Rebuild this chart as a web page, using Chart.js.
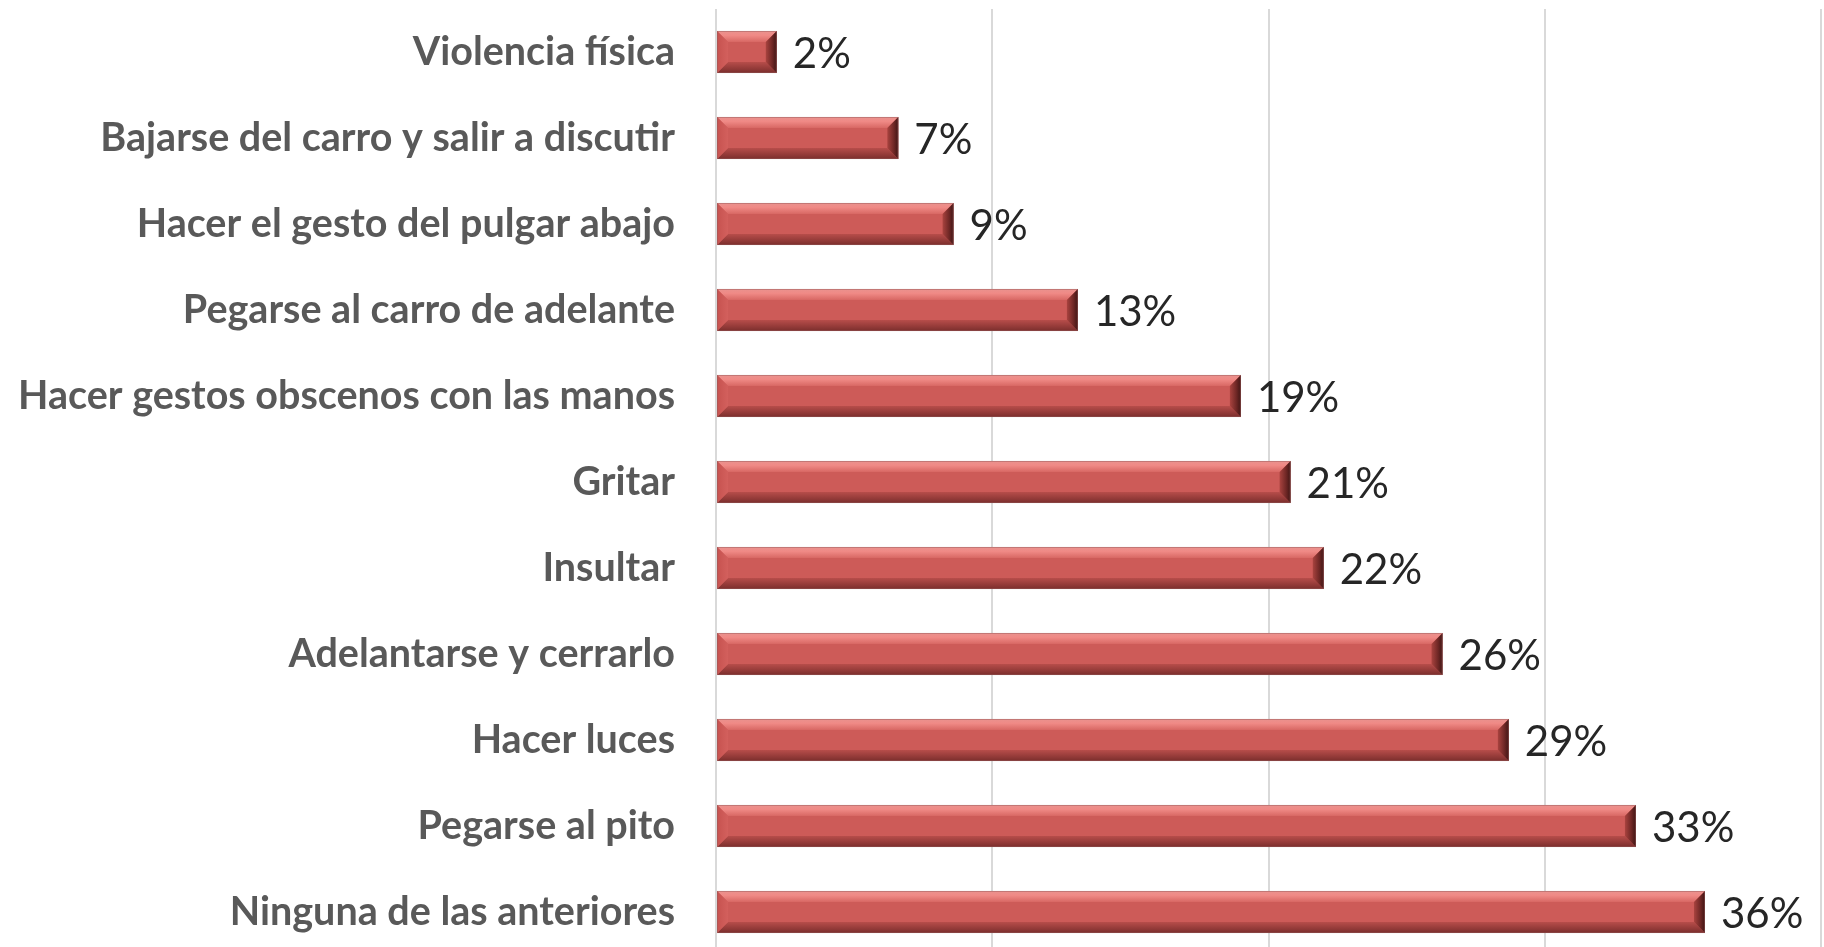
<!DOCTYPE html>
<html>
<head>
<meta charset="utf-8">
<script src="https://cdn.jsdelivr.net/npm/chart.js@4"></script>
<style>
  html, body { margin: 0; padding: 0; background: #ffffff; overflow: hidden; }
  canvas { display: block; }
</style>
</head>
<body>
<canvas id="c" width="1824" height="956"></canvas>
<script>
const categories = [
  "Violencia física",
  "Bajarse del carro y salir a discutir",
  "Hacer el gesto del pulgar abajo",
  "Pegarse al carro de adelante",
  "Hacer gestos obscenos con las manos",
  "Gritar",
  "Insultar",
  "Adelantarse y cerrarlo",
  "Hacer luces",
  "Pegarse al pito",
  "Ninguna de las anteriores"
];
const values = [2.2, 6.6, 8.6, 13.1, 19.0, 20.8, 22.0, 26.3, 28.7, 33.3, 35.8];
const valueLabels = ["2%", "7%", "9%", "13%", "19%", "21%", "22%", "26%", "29%", "33%", "36%"];
const xTicks = [0, 10, 20, 30, 40];

const bevelPlugin = {
  id: 'bevel',
  afterDatasetsDraw(chart) {
    const ctx = chart.ctx;
    const meta = chart.getDatasetMeta(0);
    meta.data.forEach((bar, i) => {
      const p = bar.getProps(['x', 'y', 'base', 'height'], true);
      const L = p.base, R = p.x, T = p.y - p.height / 2, B = p.y + p.height / 2;
      const b = Math.min(11, (R - L) / 2);
      ctx.save();
      // top bevel
      let g = ctx.createLinearGradient(0, T, 0, T + b);
      g.addColorStop(0, '#E9928E'); g.addColorStop(0.4, '#F08A86'); g.addColorStop(1, '#D86864');
      ctx.fillStyle = g;
      ctx.beginPath(); ctx.moveTo(L, T); ctx.lineTo(R, T); ctx.lineTo(R - b, T + b); ctx.lineTo(L + b, T + b); ctx.closePath(); ctx.fill();
      // bottom bevel
      g = ctx.createLinearGradient(0, B - b, 0, B);
      g.addColorStop(0, '#B74D4A'); g.addColorStop(0.6, '#933A38'); g.addColorStop(1, '#7A2E2C');
      ctx.fillStyle = g;
      ctx.beginPath(); ctx.moveTo(L, B); ctx.lineTo(R, B); ctx.lineTo(R - b, B - b); ctx.lineTo(L + b, B - b); ctx.closePath(); ctx.fill();
      // left bevel
      g = ctx.createLinearGradient(L, 0, L + b, 0);
      g.addColorStop(0, '#C6524F'); g.addColorStop(1, '#D3605D');
      ctx.fillStyle = g;
      ctx.beginPath(); ctx.moveTo(L, T); ctx.lineTo(L + b, T + b); ctx.lineTo(L + b, B - b); ctx.lineTo(L, B); ctx.closePath(); ctx.fill();
      // right bevel
      g = ctx.createLinearGradient(R - b, 0, R, 0);
      g.addColorStop(0, '#A9433F'); g.addColorStop(0.6, '#6E2725'); g.addColorStop(1, '#3E1413');
      ctx.fillStyle = g;
      ctx.beginPath(); ctx.moveTo(R, T); ctx.lineTo(R - b, T + b); ctx.lineTo(R - b, B - b); ctx.lineTo(R, B); ctx.closePath(); ctx.fill();
      // faint outline
      ctx.strokeStyle = 'rgba(150,90,90,0.5)';
      ctx.lineWidth = 1;
      ctx.strokeRect(L + 0.5, T + 0.5, R - L - 1, B - T - 1);
      // value label
      ctx.fillStyle = '#262626';
      ctx.font = '42px Lato';
      ctx.textAlign = 'left';
      ctx.textBaseline = 'middle';
      ctx.fillText(valueLabels[i], R + 16, p.y + 2);
      ctx.restore();
    });
  }
};

new Chart(document.getElementById('c'), {
  type: 'bar',
  data: {
    labels: categories,
    datasets: [{
      data: values,
      backgroundColor: '#CD5B58',
      borderWidth: 0,
      barPercentage: 0.49,
      categoryPercentage: 1.0
    }]
  },
  options: {
    indexAxis: 'y',
    responsive: false,
    animation: false,
    devicePixelRatio: 1,
    layout: { padding: { top: 9, right: 3, bottom: 1, left: 0 } },
    plugins: { legend: { display: false }, tooltip: { enabled: false } },
    scales: {
      x: {
        min: 0, max: 40,
        afterBuildTicks(scale) { scale.ticks = xTicks.map(v => ({ value: v })); },
        afterFit(scale) { scale.height = 0; scale.paddingLeft = 0; scale.paddingRight = 0; },
        ticks: { display: false },
        grid: { color: '#D9D9D9', lineWidth: 2, drawTicks: false },
        border: { display: false }
      },
      y: {
        afterFit(scale) { scale.width = 716; scale.paddingTop = 0; scale.paddingBottom = 0; },
        grid: { display: false, drawTicks: false },
        border: { display: false },
        ticks: {
          padding: 41,
          color: '#595959',
          font: { family: 'Lato', weight: 'bold', size: 39.5 }
        }
      }
    }
  },
  plugins: [bevelPlugin]
});
</script>
</body>
</html>
